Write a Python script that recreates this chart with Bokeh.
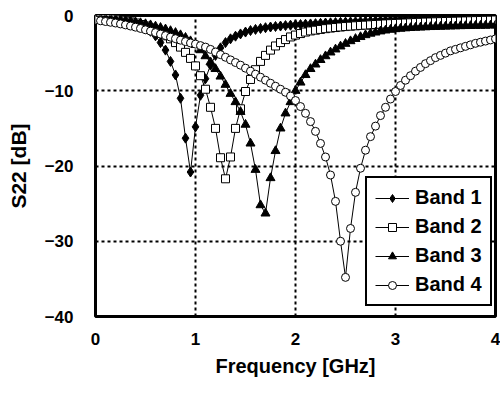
from bokeh.plotting import figure
from bokeh.models import FixedTicker, Legend, LegendItem, Range1d
from bokeh.embed import file_html
from bokeh.resources import INLINE

freq = [0.00, 0.05, 0.10, 0.15, 0.20, 0.25, 0.30, 0.35, 0.40, 0.45,
        0.50, 0.55, 0.60, 0.65, 0.70, 0.75, 0.80, 0.85, 0.90, 0.95,
        1.00, 1.05, 1.10, 1.15, 1.20, 1.25, 1.30, 1.35, 1.40, 1.45,
        1.50, 1.55, 1.60, 1.65, 1.70, 1.75, 1.80, 1.85, 1.90, 1.95,
        2.00, 2.05, 2.10, 2.15, 2.20, 2.25, 2.30, 2.35, 2.40, 2.45,
        2.50, 2.55, 2.60, 2.65, 2.70, 2.75, 2.80, 2.85, 2.90, 2.95,
        3.00, 3.05, 3.10, 3.15, 3.20, 3.25, 3.30, 3.35, 3.40, 3.45,
        3.50, 3.55, 3.60, 3.65, 3.70, 3.75, 3.80, 3.85, 3.90, 3.95,
        4.00]

band1 = [-0.3, -0.3, -0.35, -0.45, -0.55, -0.65, -0.8, -0.95, -1.15, -1.4,
         -1.7, -2.1, -2.7, -3.6, -4.6, -6.1, -7.9, -11.0, -16.3, -20.8,
         -14.8, -10.6, -8.4, -6.6, -5.3, -4.3, -3.6, -3.1, -2.75, -2.45,
         -2.2, -2.0, -1.85, -1.72, -1.62, -1.53, -1.46, -1.4, -1.34, -1.29,
         -1.24, -1.2, -1.16, -1.12, -1.08, -1.04, -1.0, -0.97, -0.94, -0.91,
         -0.88, -0.85, -0.82, -0.79, -0.76, -0.73, -0.7, -0.67, -0.64, -0.61,
         -0.58, -0.55, -0.52, -0.5, -0.48, -0.46, -0.44, -0.42, -0.4, -0.38,
         -0.36, -0.34, -0.32, -0.3, -0.28, -0.26, -0.24, -0.22, -0.2, -0.18,
         -0.16]

band2 = [-0.3, -0.3, -0.35, -0.4, -0.5, -0.6, -0.7, -0.85, -1.0, -1.2,
         -1.4, -1.65, -1.95, -2.3, -2.7, -3.1, -3.6, -4.2, -4.9, -5.7,
         -6.7, -8.0, -9.8, -12.2, -15.0, -18.9, -21.7, -18.8, -15.0, -12.4,
         -10.1, -8.5, -7.2, -6.1, -5.3, -4.6, -4.05, -3.6, -3.2, -2.85,
         -2.6, -2.4, -2.2, -2.05, -1.95, -1.85, -1.75, -1.67, -1.6, -1.53,
         -1.47, -1.42, -1.37, -1.32, -1.28, -1.24, -1.2, -1.16, -1.12, -1.09,
         -1.06, -1.03, -1.0, -0.97, -0.94, -0.91, -0.88, -0.86, -0.84, -0.82,
         -0.8, -0.78, -0.76, -0.74, -0.72, -0.7, -0.68, -0.66, -0.64, -0.62,
         -0.6]

band3 = [-0.3, -0.32, -0.36, -0.42, -0.5, -0.58, -0.67, -0.77, -0.88, -1.0,
         -1.13, -1.28, -1.45, -1.63, -1.83, -2.05, -2.3, -2.6, -2.95, -3.4,
         -3.9, -4.6, -5.4, -6.2, -7.1, -8.1, -9.2, -10.4, -11.5, -12.8,
         -14.5, -17.0, -20.5, -25.2, -26.3, -21.6, -18.0, -15.0, -13.0, -11.5,
         -10.0, -8.9, -7.9, -7.1, -6.5, -5.9, -5.4, -4.9, -4.5, -4.1,
         -3.75, -3.4, -3.1, -2.85, -2.6, -2.4, -2.25, -2.1, -1.98, -1.88,
         -1.8, -1.74, -1.69, -1.65, -1.61, -1.58, -1.55, -1.52, -1.5, -1.48,
         -1.46, -1.44, -1.42, -1.4, -1.39, -1.38, -1.36, -1.35, -1.34, -1.32,
         -1.3]

band4 = [-0.6, -0.7, -0.8, -0.9, -1.0, -1.12, -1.25, -1.4, -1.55, -1.72,
         -1.9, -2.08, -2.27, -2.47, -2.67, -2.88, -3.08, -3.28, -3.47, -3.65,
         -3.8, -4.0, -4.2, -4.5, -4.85, -5.2, -5.55, -5.9, -6.25, -6.6,
         -7.0, -7.4, -7.8, -8.2, -8.6, -9.0, -9.4, -9.8, -10.2, -10.7,
         -11.3, -12.1, -13.0, -14.1, -15.4, -17.0, -18.8, -21.2, -24.7, -30.0,
         -34.8, -28.3, -23.5, -20.3, -17.9, -16.1, -14.7, -13.3, -12.2, -11.1,
         -10.1, -9.3, -8.6, -8.0, -7.4, -6.9, -6.4, -6.0, -5.6, -5.3,
         -5.0, -4.7, -4.5, -4.3, -4.1, -3.9, -3.7, -3.55, -3.4, -3.25,
         -3.1]

labels = ["Band 1", "Band 2", "Band 3", "Band 4"]
x_ticks = [0, 1, 2, 3, 4]
y_ticks = [-40, -30, -20, -10, 0]

FONT = "Liberation Sans"

p = figure(width=500, height=396, output_backend="svg", toolbar_location=None,
           x_range=Range1d(0, 4), y_range=Range1d(-40, 0),
           min_border_left=95, min_border_right=5, min_border_top=15,
           min_border_bottom=80)

p.outline_line_color = "black"
p.outline_line_width = 3
p.background_fill_color = "white"
p.border_fill_color = "white"

for ax in (p.xaxis[0], p.yaxis[0]):
    ax.axis_line_color = None
    ax.major_tick_line_color = None
    ax.minor_tick_line_color = None
    ax.major_label_text_font = FONT
    ax.major_label_text_font_style = "bold"
    ax.major_label_text_font_size = "17px"
    ax.major_label_text_color = "black"
    ax.axis_label_text_font = FONT
    ax.axis_label_text_font_style = "bold"
    ax.axis_label_text_color = "black"

p.xaxis.axis_label_text_font_size = "20px"
p.yaxis.axis_label_text_font_size = "21px"
p.xaxis.ticker = FixedTicker(ticks=x_ticks)
p.yaxis.ticker = FixedTicker(ticks=y_ticks)
p.xaxis.axis_label = "Frequency [GHz]"
p.yaxis.axis_label = "S22 [dB]"
p.xaxis.major_label_standoff = 10
p.xaxis.axis_label_standoff = 7
p.yaxis.major_label_standoff = 16
p.yaxis.axis_label_standoff = 12

p.xgrid.ticker = FixedTicker(ticks=[1, 2, 3])
p.ygrid.ticker = FixedTicker(ticks=[-30, -20, -10])
for g in (p.xgrid[0], p.ygrid[0]):
    g.grid_line_color = "black"
    g.grid_line_width = 2
    g.grid_line_dash = "3 3"

series = [band1, band2, band3, band4]
markers = ["diamond", "square", "triangle", "circle"]
fills = ["black", "white", "black", "white"]
sizes = [10, 8, 9, 8]

items = []
for ys, m, fc, sz, lab in zip(series, markers, fills, sizes, labels):
    ln = p.line(freq, ys, line_color="black", line_width=1)
    sc = p.scatter(freq, ys, marker=m, size=sz, fill_color=fc,
                   line_color="black", line_width=1)
    items.append(LegendItem(label=lab, renderers=[ln, sc]))

legend = Legend(items=items, location=(270, 10))
legend.label_text_font = FONT
legend.label_text_font_style = "bold"
legend.label_text_font_size = "20px"
legend.label_text_color = "black"
legend.border_line_color = "black"
legend.border_line_width = 2.5
legend.border_line_alpha = 1
legend.background_fill_color = "white"
legend.background_fill_alpha = 1
legend.glyph_width = 34
legend.glyph_height = 20
legend.label_height = 20
legend.label_standoff = 6
legend.spacing = 6
legend.padding = 8
legend.margin = 0
p.add_layout(legend, "center")

open("out.html", "w").write(file_html(p, INLINE))
